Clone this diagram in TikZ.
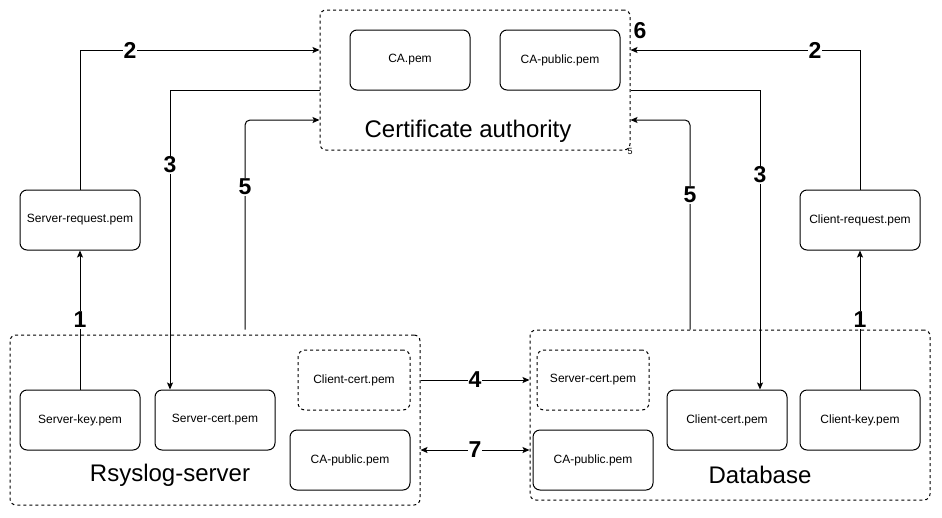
\documentclass[tikz,border=0pt]{standalone}
\usepackage{fontspec}
\setmainfont{Liberation Sans}
\usetikzlibrary{arrows.meta}

\begin{document}
\begin{tikzpicture}[
    x=1pt, y=-1pt,
    block/.style={rectangle, draw, rounded corners=7pt, minimum width=120pt, minimum height=60pt, line width=1pt, font=\fontsize{12}{14}\selectfont},
    copyblock/.style={block, dashed, minimum width=112pt},
    group/.style={rectangle, draw, dashed, rounded corners=6pt, line width=1pt, inner sep=0pt},
    title/.style={font=\fontsize{24}{28}\selectfont},
    num/.style={fill=white, inner sep=1pt, font=\fontsize{23}{25}\selectfont\bfseries},
    arrow/.style={-{Stealth[length=7pt, width=6pt, inset=1.5pt]}, line width=1pt},
    twoway/.style={{Stealth[length=7pt, width=6pt, inset=1.5pt]}-{Stealth[length=7pt, width=6pt, inset=1.5pt]}, line width=1pt}
]
    \useasboundingbox (0,0) rectangle (942,517);

    % groups
    \node[group, minimum width=310pt, minimum height=140pt] (ca) at (475,80) {};
    \node[group, minimum width=410pt, minimum height=170pt] (rsys) at (215,420) {};
    \node[group, minimum width=400pt, minimum height=170pt] (db) at (730,415) {};

    \node[title] (catitle) at (468,131) {Certificate authority};
    \node[title] (rsystitle) at (170,475) {Rsyslog-server};
    \node[title] (dbtitle) at (760,475) {Database};

    % files
    \node[block] (capem) at (410,60) {CA.pem};
    \node[block] (capub) at (560,60) {CA-public.pem};

    \node[block] (sreq) at (80,220) {Server-request.pem};
    \node[block] (creq) at (860,220) {Client-request.pem};

    \node[block] (skey) at (80,420) {Server-key.pem};
    \node[block] (scert) at (215,420) {Server-cert.pem};
    \node[copyblock] (rccert) at (354,380) {Client-cert.pem};
    \node[block] (rcapub) at (350,460) {CA-public.pem};

    \node[copyblock] (dscert) at (593,380) {Server-cert.pem};
    \node[block] (dcapub) at (593,460) {CA-public.pem};
    \node[block] (ccert) at (727,420) {Client-cert.pem};
    \node[block] (ckey) at (860,420) {Client-key.pem};

    % connectors
    \draw[arrow] (skey) -- (sreq);
    \draw[arrow] (ckey) -- (creq);
    \draw[arrow] (sreq.north) |- ([yshift=30pt]ca.west);
    \draw[arrow] (creq.north) |- ([yshift=30pt]ca.east);
    \draw[arrow] ([yshift=-10pt]ca.west) -| ([xshift=-45pt]scert.north);
    \draw[arrow] ([yshift=-10pt]ca.east) -| ([xshift=33pt]ccert.north);
    \draw[arrow, rounded corners=5pt] ([shift={(30pt,5pt)}]rsys.north) |- ([yshift=-40pt]ca.west);
    \draw[arrow, rounded corners=5pt] ([xshift=-40pt]db.north) |- ([yshift=-40pt]ca.east);
    \draw[arrow] (rsys.east |- rccert) -- (db.west |- rccert);
    \draw[twoway] ([yshift=-30pt]rsys.east) -- ([yshift=-35pt]db.west);

    % step numbers
    \node[num] (n1a) at (80,320) {1};
    \node[num] (n1b) at (860,320) {1};
    \node[num] (n2a) at (130,50) {2};
    \node[num] (n2b) at (815,50) {2};
    \node[num] (n3a) at (170,165) {3};
    \node[num] (n3b) at (760,175) {3};
    \node[num] (n4) at (475,380) {4};
    \node[num] (n5a) at (245,187) {5};
    \node[num] (n5b) at (690,195) {5};
    \node[num, fill=none] (n6) at (640,31) {6};
    \node[num] (n7) at (475,450) {7};
    \node[font=\fontsize{9}{10}\selectfont, inner sep=0pt] (tiny5) at (630,151) {5};
\end{tikzpicture}
\end{document}
